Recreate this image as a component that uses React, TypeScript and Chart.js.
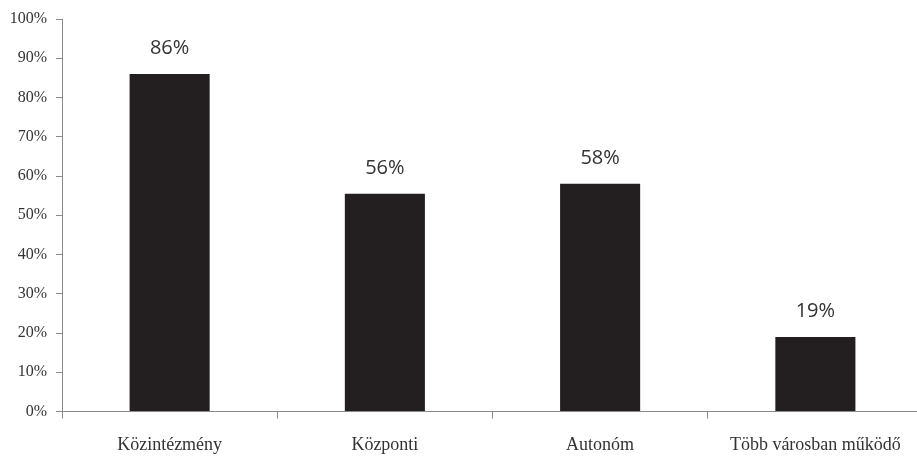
import React, { useEffect, useRef } from "react";
import { Chart, registerables } from "chart.js";

Chart.register(...registerables);

const categories = ["Közintézmény", "Központi", "Autonóm", "Több városban működő"];
const values = [86, 55.5, 58, 19];
const yTicks = [0, 10, 20, 30, 40, 50, 60, 70, 80, 90, 100];

const barColor = "#231f20";
const axisColor = "#8a8a8a";
const textColor = "#333333";

const valueLabels = {
  id: "valueLabels",
  afterDatasetsDraw(chart: any) {
    const ctx = chart.ctx;
    const meta = chart.getDatasetMeta(0);
    ctx.save();
    ctx.font = '20px "Open Sans", sans-serif';
    ctx.fillStyle = textColor;
    ctx.textAlign = "center";
    ctx.textBaseline = "alphabetic";
    meta.data.forEach((bar: any, i: number) => {
      const v = chart.data.datasets[0].data[i] as number;
      ctx.fillText(Math.round(v) + "%", bar.x, bar.y - 20);
    });
    ctx.restore();
  },
};

export default function App() {
  const ref = useRef<HTMLCanvasElement | null>(null);
  useEffect(() => {
    if (!ref.current) return;
    const chart = new Chart(ref.current, {
      type: "bar",
      data: {
        labels: categories,
        datasets: [
          {
            data: values,
            backgroundColor: barColor,
            borderWidth: 0,
            categoryPercentage: 1,
            barPercentage: 0.372,
          },
        ],
      },
      options: {
        animation: false,
        responsive: false,
        maintainAspectRatio: false,
        layout: { padding: { top: 19, right: 0, bottom: 0, left: 0 } },
        plugins: { legend: { display: false }, tooltip: { enabled: false } },
        scales: {
          x: {
            grid: {
              display: true,
              drawOnChartArea: false,
              offset: true,
              tickLength: 7,
              color: axisColor,
              lineWidth: 1,
            },
            border: { display: true, color: axisColor, width: 1 },
            ticks: {
              padding: 16,
              color: textColor,
              font: { family: '"Liberation Serif", serif', size: 18 },
              maxRotation: 0,
              autoSkip: false,
            },
            afterFit(scale: any) {
              scale.height = 44.5;
            },
          },
          y: {
            min: 0,
            max: 100,
            afterBuildTicks(scale: any) {
              scale.ticks = yTicks.map((v) => ({ value: v }));
            },
            grid: {
              display: true,
              drawOnChartArea: false,
              tickLength: 6,
              color: axisColor,
              lineWidth: 1,
            },
            border: { display: true, color: axisColor, width: 1 },
            ticks: {
              padding: 9,
              color: textColor,
              font: { family: '"Liberation Serif", serif', size: 16 },
              callback: (v: any) => v + "%",
            },
            afterFit(scale: any) {
              scale.width = 62;
            },
          },
        },
      },
      plugins: [valueLabels],
    });
    return () => chart.destroy();
  }, []);
  return (
    <div
      style={{
        position: "fixed",
        left: 0,
        top: 0,
        width: 917,
        height: 456,
        overflow: "hidden",
        background: "#fff",
      }}
    >
      <canvas ref={ref} width={923} height={456} style={{ display: "block" }} />
    </div>
  );
}
